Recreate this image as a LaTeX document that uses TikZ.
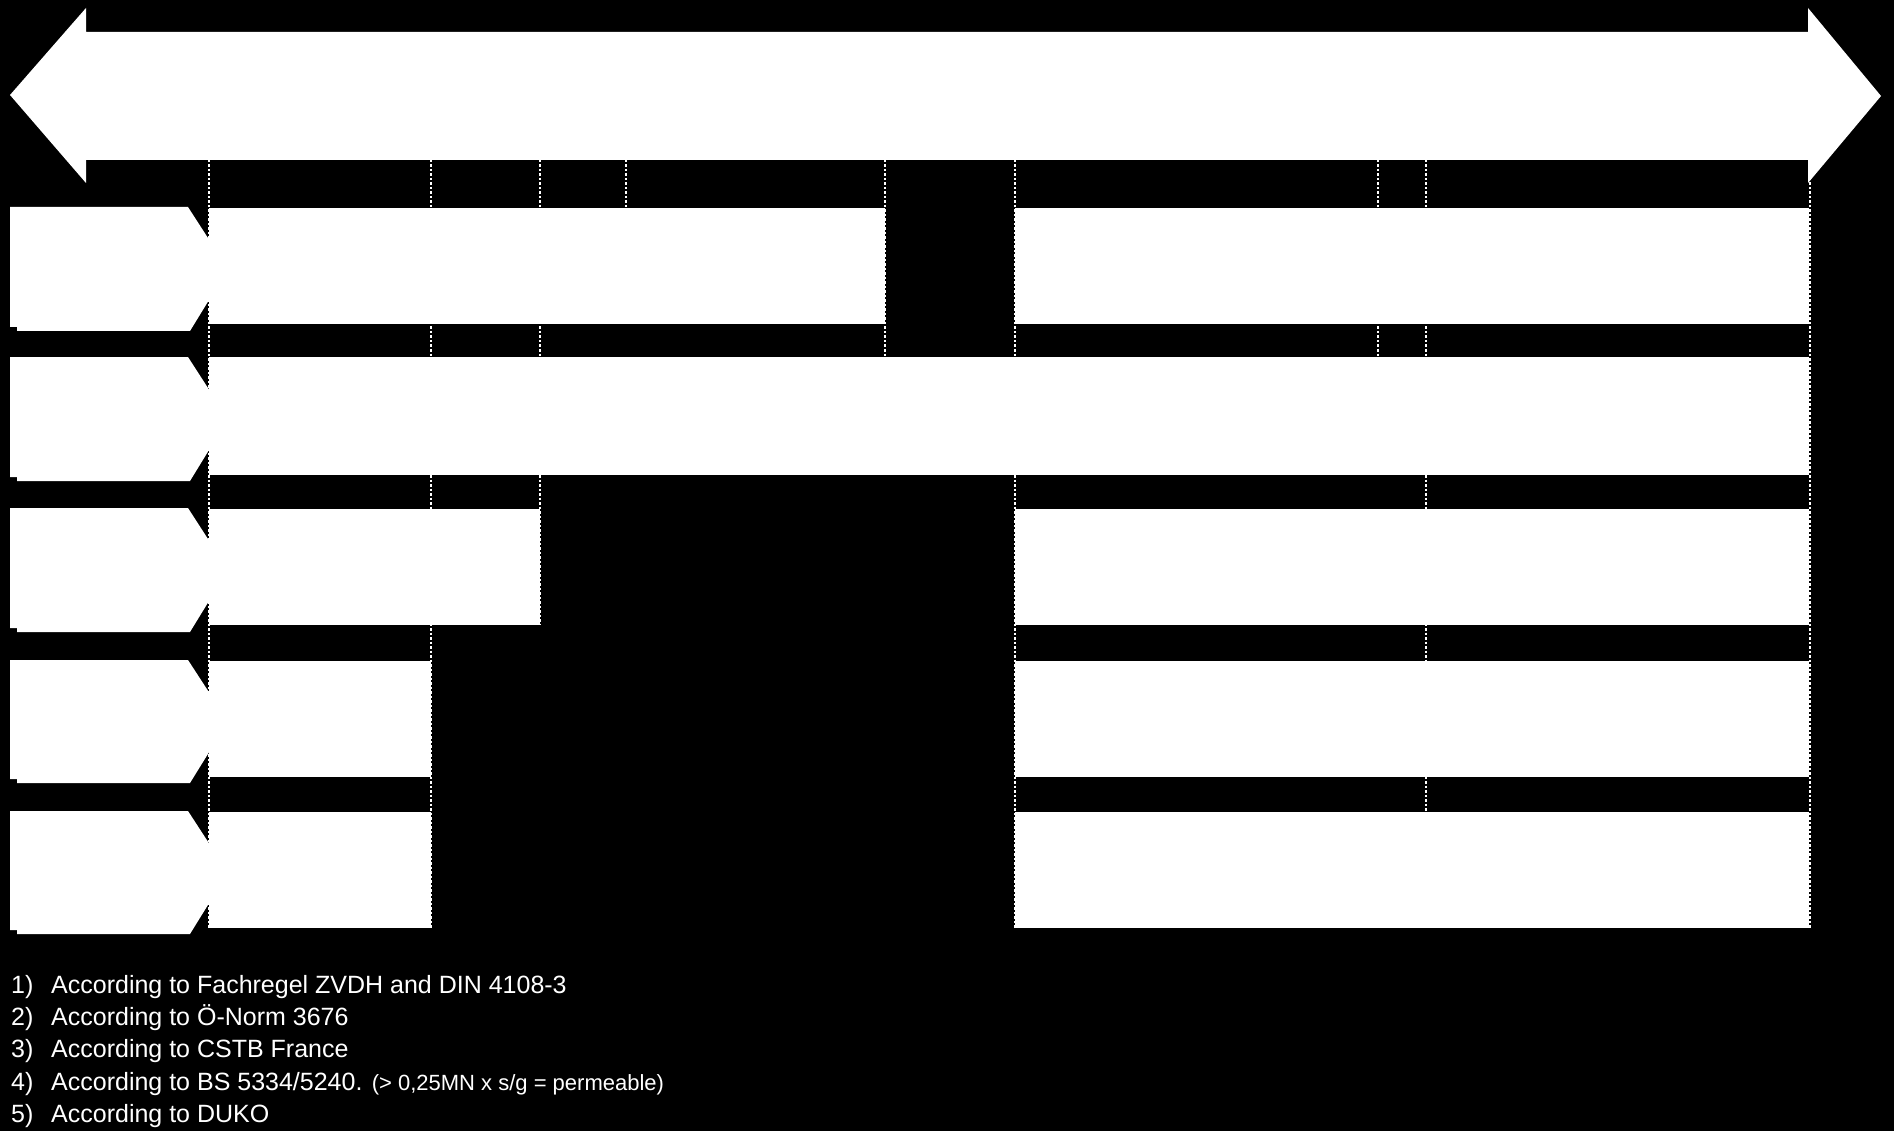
\documentclass[tikz,border=0pt]{standalone}
\usepackage{fontspec}
\setmainfont{Liberation Sans}
\begin{document}
\begin{tikzpicture}[x=1pt,y=-1pt,
  wshape/.style={fill=white,draw=none},
  gridline/.style={white,line width=1.2pt,dash pattern=on 2.5pt off 2pt},
  notenum/.style={anchor=base west,inner sep=0pt,text=white,font=\fontsize{25}{30}\selectfont},
  notetext/.style={anchor=base west,inner sep=0pt,text=white,font=\fontsize{25}{30}\selectfont}]
\fill[black] (0,0) rectangle (1894,1131);
\useasboundingbox (0,0) rectangle (1894,1131);
% double arrow
\fill[wshape] (10,95) -- (86,8) -- (86,32) -- (1808,32) -- (1808,8) -- (1881,96)
  -- (1808,183) -- (1808,160) -- (86,160) -- (86,183) -- cycle;
% row labels
\foreach \t/\b in {207/331, 357/481, 508/632, 660/783, 811/934}{
  \fill[wshape] (10,\t) -- (188,\t) -- (228,{(\t+\b)/2}) -- (190,\b) -- (17,\b)
    -- (17,\b-4) -- (10,\b-4) -- cycle;
}
% row bars
\fill[wshape] (209,208) rectangle (885,324);
\fill[wshape] (1015,208) rectangle (1809,324);
\fill[wshape] (209,357) rectangle (1809,475);
\fill[wshape] (209,509) rectangle (540,625);
\fill[wshape] (1015,509) rectangle (1809,625);
\fill[wshape] (209,661) rectangle (431,777);
\fill[wshape] (1015,661) rectangle (1809,777);
\fill[wshape] (209,812) rectangle (431,928);
\fill[wshape] (1015,812) rectangle (1809,928);
% dashed grid lines
\draw[gridline] (209,160) -- (209,928);
\draw[gridline] (431,160) -- (431,928);
\draw[gridline] (540,160) -- (540,625);
\draw[gridline] (626,160) -- (626,208);
\draw[gridline] (885,160) -- (885,357);
\draw[gridline] (1015,160) -- (1015,928);
\draw[gridline] (1378,160) -- (1378,357);
\draw[gridline] (1426,160) -- (1426,928);
\draw[gridline] (1810,160) -- (1810,928);
% footnotes
\node[notenum] (n1) at (11,993) {1)};
\node[notetext] (t1) at (51,993) {According to Fachregel ZVDH and DIN 4108-3};
\node[notenum] (n2) at (11,1025) {2)};
\node[notetext] (t2) at (51,1025) {According to Ö-Norm 3676};
\node[notenum] (n3) at (11,1057) {3)};
\node[notetext] (t3) at (51,1057) {According to CSTB France};
\node[notenum] (n4) at (11,1090) {4)};
\node[notetext] (t4) at (51,1090) {According to BS 5334/5240. {\fontsize{22}{26}\selectfont (> 0,25MN x s/g = permeable)}};
\node[notenum] (n5) at (11,1122) {5)};
\node[notetext] (t5) at (51,1122) {According to DUKO};
\end{tikzpicture}
\end{document}
